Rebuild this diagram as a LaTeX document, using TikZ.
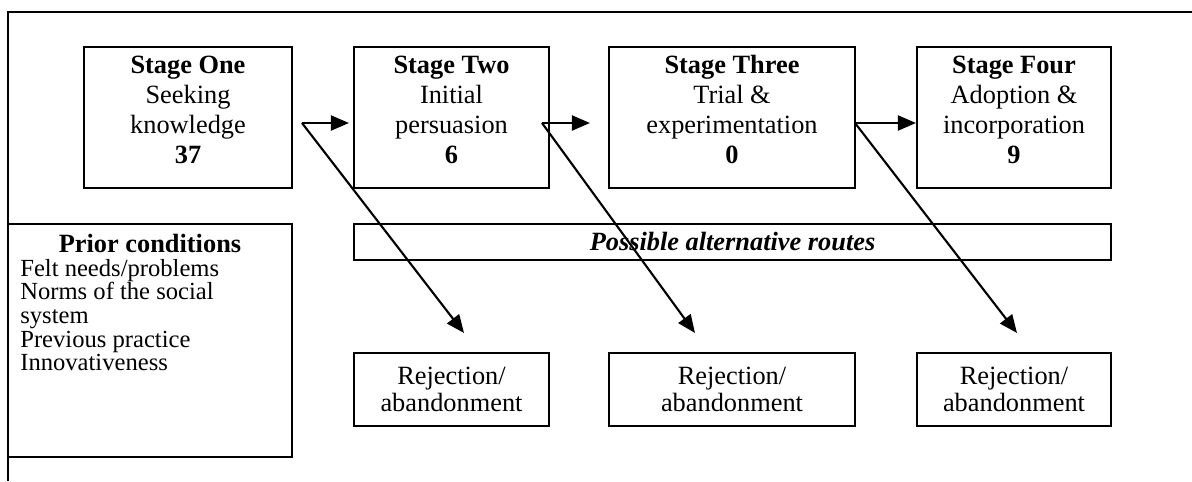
\documentclass[tikz,border=0pt]{standalone}
\usepackage{fontspec}
\setmainfont{Liberation Serif}
\usetikzlibrary{arrows.meta}

\tikzset{
  stagebox/.style={draw, line width=1.2pt, minimum height=141*0.02cm, align=center,
    inner sep=0pt, text depth=16*0.02cm, font=\fontsize{15}{17}\selectfont},
  rejbox/.style={draw, line width=1.2pt, minimum height=73*0.02cm, align=center,
    inner sep=0pt, font=\fontsize{15}{15}\selectfont},
  route/.style={line width=1.2pt, -{Triangle[length=0.36cm,width=0.3cm]}},
}

\begin{document}
\begin{tikzpicture}[x=0.02cm,y=-0.02cm]
\useasboundingbox (0,0) rectangle (1192,481);
% outer frame
\draw[line width=1.2pt] (1192,12) -- (8,12) -- (8,481);

% the four stages
\node[stagebox, minimum width=208*0.02cm] (s1) at (188,117.5) {\textbf{Stage One}\\Seeking\\knowledge\\\textbf{37}};
\node[stagebox, minimum width=195*0.02cm] (s2) at (451.5,117.5) {\textbf{Stage Two}\\Initial\\persuasion\\\textbf{6}};
\node[stagebox, minimum width=246*0.02cm] (s3) at (732,117.5) {\textbf{Stage Three}\\Trial \&\\experimentation\\\textbf{0}};
\node[stagebox, minimum width=194*0.02cm] (s4) at (1014,117.5) {\textbf{Stage Four}\\Adoption \&\\incorporation\\\textbf{9}};

% prior conditions
\node[draw, line width=1.2pt, minimum width=284*0.02cm, minimum height=233*0.02cm] (prior) at (150,340.5) {};
\node[font=\fontsize{15}{17}\selectfont\bfseries] (priorhead) at (150,243) {Prior conditions};
\node[anchor=north west, align=left, inner sep=0pt, font=\fontsize{14}{13.4}\selectfont] (priorlist) at (20,259) {Felt needs/problems\\Norms of the social\\system\\Previous practice\\Innovativeness};

% alternative routes
\node[draw, line width=1.2pt, minimum width=757*0.02cm, minimum height=36*0.02cm,
  font=\fontsize{15}{17}\selectfont\bfseries\itshape] (alt) at (732.5,242) {Possible alternative routes};

% rejection
\node[rejbox, minimum width=195*0.02cm] (r1) at (451.5,389.5) {Rejection/\\abandonment};
\node[rejbox, minimum width=246*0.02cm] (r2) at (732,389.5) {Rejection/\\abandonment};
\node[rejbox, minimum width=194*0.02cm] (r3) at (1014,389.5) {Rejection/\\abandonment};

% arrows
\coordinate (f1) at (302,123);
\coordinate (f2) at (542,123);
\coordinate (f3) at (855,123);
\coordinate (t1) at (464,333);
\coordinate (t2) at (695,333);
\coordinate (t3) at (1017,333);
\draw[route] (f1) -- ([xshift=-4*0.02cm]s2.west |- f1);
\draw[route] (f2) -- ([xshift=-18*0.02cm]s3.west |- f2);
\draw[route] (f3) -- (s4.west |- f3);
\draw[route] (f1) -- (t1);
\draw[route] (f2) -- (t2);
\draw[route] (f3) -- (t3);
\end{tikzpicture}
\end{document}
